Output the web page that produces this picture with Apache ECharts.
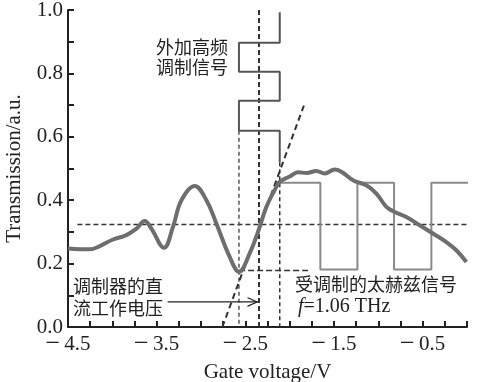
<!DOCTYPE html>
<html>
<head>
<meta charset="utf-8">
<script src="https://cdn.jsdelivr.net/npm/echarts@6/dist/echarts.min.js"></script>
<style>
  html, body { margin: 0; padding: 0; background: #fff; }
  #chart { width: 496px; height: 382px; }
</style>
</head>
<body>
<div id="chart"></div>
<script>
// Transmission vs. gate voltage
const gateV = [-4.5, -4.255, -4.142, -3.992, -3.841, -3.729, -3.635, -3.559, -3.417, -3.316,
  -3.221, -3.071, -2.939, -2.826, -2.676, -2.571, -2.451, -2.357, -2.262, -2.169,
  -2.112, -1.999, -1.906, -1.811, -1.699, -1.605, -1.492, -1.417, -1.286, -1.135,
  -1.022, -0.909, -0.816, -0.684, -0.534, -0.384, -0.233, -0.120, -0.007];
const transmission = [0.248, 0.245, 0.255, 0.276, 0.290, 0.310, 0.334, 0.310, 0.250, 0.316,
  0.400, 0.445, 0.400, 0.326, 0.221, 0.174, 0.232, 0.300, 0.379, 0.432,
  0.458, 0.475, 0.488, 0.486, 0.492, 0.484, 0.497, 0.490, 0.463, 0.447,
  0.421, 0.379, 0.363, 0.347, 0.321, 0.295, 0.268, 0.242, 0.205];

// Gate-voltage modulation (square wave running down the time axis)
const modX = [-2.112, -2.112, -2.572, -2.572, -2.112, -2.112, -2.572, -2.572, -2.112, -2.112];
const modY = [0.993, 0.897, 0.897, 0.805, 0.805, 0.714, 0.714, 0.619, 0.619, 0.52];

// Modulated THz output (square wave)
const thzX = [-2.112, -1.654, -1.654, -1.236, -1.236, -0.823, -0.823, -0.402, -0.402, 0.02];
const thzY = [0.455, 0.455, 0.181, 0.181, 0.455, 0.455, 0.181, 0.181, 0.455, 0.455];

// Guide lines
const biasLevel = 0.323;           // horizontal reference
const biasLevelSpan = [-4.394, 0.323];
const lowLevel = 0.178;
const lowLevelSpan = [-2.57, -1.78];
const vLow = -2.572, vBias = -2.346, vHigh = -2.112;
const vLowTop = 0.619, vBiasTop = 1.0, vHighTop = 0.52;
const tangentX = [-2.759, -1.831];
const tangentY = [0.0, 0.705];
const arrowX = [-3.376, -2.357];
const arrowY = 0.079;

const xTicks = [-4.5, -3.5, -2.5, -1.5, -0.5];

const zip = (xs, ys) => xs.map((x, i) => [x, ys[i]]);
const dashed = (data, width, dash, color) => ({
  type: 'line', data, symbol: 'none', silent: true, clip: false,
  lineStyle: { color: color || '#333', width: width, type: dash }
});

const serif = '"Liberation Serif", "Times New Roman", serif';
const cjk = '"Noto Sans CJK SC", sans-serif';

const chart = echarts.init(document.getElementById('chart'));
chart.setOption({
  animation: false,
  backgroundColor: '#fff',
  grid: { left: 68, right: 29, top: 10, bottom: 55, outerBoundsMode: 'none', containLabel: false },
  xAxis: {
    type: 'value', min: -4.5, max: 0, interval: 0.25,
    name: 'Gate voltage/V', nameLocation: 'middle', nameGap: 34,
    nameTextStyle: { fontFamily: serif, fontSize: 21, color: '#222' },
    axisLine: { onZero: false, lineStyle: { color: '#222', width: 2 } },
    axisTick: { inside: true, length: 6, lineStyle: { color: '#222', width: 2 } },
    splitLine: { show: false },
    axisLabel: {
      margin: 6, fontFamily: serif, fontSize: 21, lineHeight: 22, color: '#222',
      formatter: v => xTicks.some(t => Math.abs(t - v) < 1e-6) ? '{m|\u2212}\u2009' + Math.abs(v).toFixed(1) : '',
      rich: { m: { fontFamily: serif, fontSize: 26, lineHeight: 22, color: '#222' } }
    }
  },
  yAxis: {
    type: 'value', min: 0, max: 1, interval: 0.1,
    name: 'Transmission/a.u.', nameLocation: 'middle', nameGap: 43,
    nameTextStyle: { fontFamily: serif, fontSize: 21, color: '#222' },
    axisLine: { show: true, onZero: false, lineStyle: { color: '#222', width: 2 } },
    axisTick: { show: true, inside: true, length: 6, lineStyle: { color: '#222', width: 2 } },
    splitLine: { show: false },
    axisLabel: {
      margin: 5, fontFamily: serif, fontSize: 21, color: '#222',
      formatter: v => Math.round(v * 10) % 2 === 0 ? v.toFixed(1) : ''
    }
  },
  series: [
    dashed([[biasLevelSpan[0], biasLevel], [biasLevelSpan[1], biasLevel]], 1.5, [5, 3]),
    dashed([[vLow, vLowTop], [vLow, 0]], 1.5, [4, 3], '#555'),
    dashed([[vBias, vBiasTop], [vBias, 0]], 2, [5, 3]),
    dashed([[vHigh, vHighTop], [vHigh, 0]], 1.5, [4, 3]),
    dashed([[lowLevelSpan[0], lowLevel], [lowLevelSpan[1], lowLevel]], 1.5, [6, 3]),
    dashed(zip(tangentX, tangentY), 2, [6, 4]),
    {
      type: 'line', data: zip(thzX, thzY), symbol: 'none', silent: true, clip: false,
      lineStyle: { color: '#8a8a8a', width: 2 }
    },
    {
      type: 'line', data: zip(modX, modY), symbol: 'none', silent: true,
      lineStyle: { color: '#555', width: 2 }
    },
    {
      type: 'line', silent: true,
      data: [
        { value: [arrowX[0], arrowY], symbol: 'none' },
        { value: [arrowX[1], arrowY], symbol: 'path://M0,0 L10,5 L0,10 L0,8.6 L7.4,5 L0,1.4 Z',
          symbolSize: [11, 10], symbolOffset: [-5, 0], symbolKeepAspect: true }
      ],
      itemStyle: { color: '#222' },
      lineStyle: { color: '#222', width: 1.2 }
    },
    {
      type: 'line', data: zip(gateV, transmission), symbol: 'none', smooth: 0.4, silent: true,
      lineStyle: { color: '#6e6e6e', width: 4 }
    }
  ],
  graphic: [
    { type: 'text', left: 156, top: 37, style: { text: '外加高频\n调制信号', font: '18px ' + cjk, lineHeight: 20, fill: '#222' } },
    { type: 'text', left: 73, top: 275, style: { text: '调制器的直\n流工作电压', font: '18px ' + cjk, lineHeight: 22, fill: '#222' } },
    { type: 'text', left: 295, top: 273, style: { text: '受调制的太赫兹信号', font: '18px ' + cjk, lineHeight: 22, fill: '#222' } },
    { type: 'text', left: 298, top: 297, style: {
        text: '{i|f}=1.06 THz', font: '20px ' + serif, fill: '#222',
        rich: { i: { fontStyle: 'italic', fontFamily: serif, fontSize: 20, fill: '#222' } }
    } }
  ]
});
</script>
</body>
</html>
